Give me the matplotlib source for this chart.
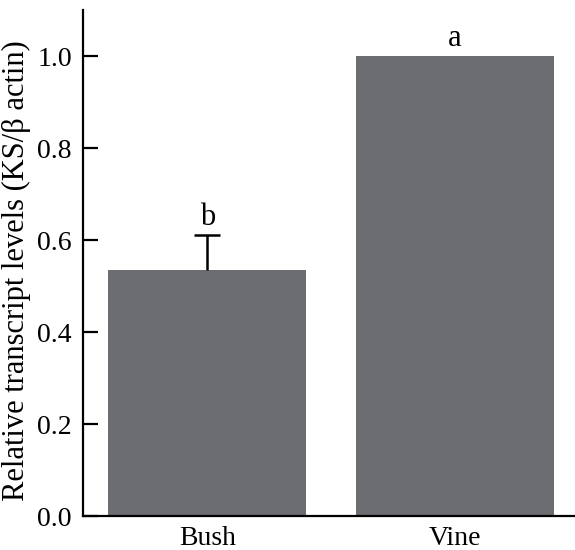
import numpy as np
import matplotlib
matplotlib.use("Agg")
import matplotlib.pyplot as plt

categories = ["Bush", "Vine"]
values = [0.535, 1.0]
err_upper = [0.075, 0.0]
letters = ["b", "a"]

plt.rcParams['font.family'] = ['Liberation Serif', 'DejaVu Serif']

fig = plt.figure(figsize=(5.75, 5.5), dpi=100)
ax = fig.add_axes([0.1443, 0.0618, 0.8557, 0.92])

x = np.arange(len(categories))
bar_color = '#6c6d71'
ax.bar(x, values, width=0.8, color=bar_color, zorder=2)

# only upper error bar (Bush)
_, caps, _ = ax.errorbar(x[0], values[0], yerr=[[0], [err_upper[0]]], fmt='none',
                         ecolor='black', elinewidth=1.8, capsize=9.5, capthick=1.8, zorder=3)
caps[0].set_visible(False)

tops = [v + e for v, e in zip(values, err_upper)]
for xi, t, lab in zip(x, tops, letters):
    ax.text(xi, t + 0.022, lab, ha='center', va='baseline', fontsize=22)

ax.set_xlim(-0.503, 1.485)
ax.set_ylim(0, 1.1)
ax.set_yticks([0.0, 0.2, 0.4, 0.6, 0.8, 1.0])
ax.set_yticklabels(["0.0", "0.2", "0.4", "0.6", "0.8", "1.0"])
ax.set_xticks(x)
ax.set_xticklabels(categories)
ax.tick_params(axis='y', direction='in', length=10.5, width=1.6, labelsize=20, pad=8)
ax.tick_params(axis='x', length=0, labelsize=20, pad=7)
ax.set_ylabel("Relative transcript levels (KS/β actin)", fontsize=22)
ax.yaxis.set_label_coords(-0.106, 0.485)

for s in ['top', 'right']:
    ax.spines[s].set_visible(False)
for s in ['left', 'bottom']:
    ax.spines[s].set_linewidth(1.6)

fig.savefig("out.png", dpi=100)
